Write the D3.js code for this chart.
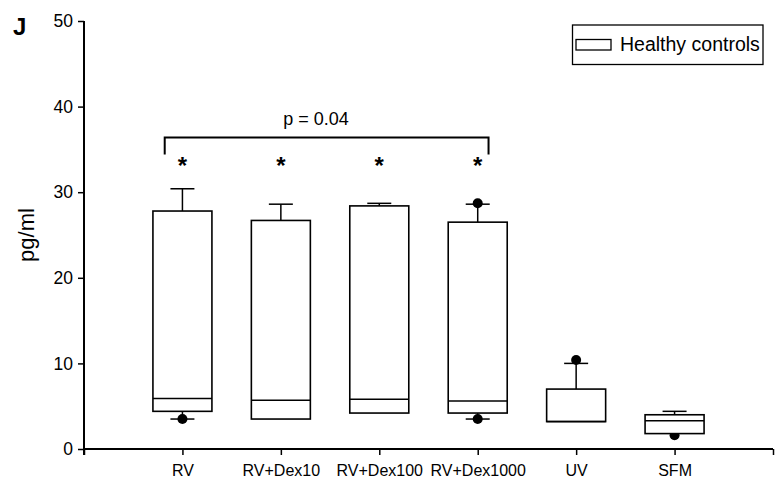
<!DOCTYPE html>
<html>
<head>
<meta charset="utf-8">
<script src="https://cdn.jsdelivr.net/npm/d3@7"></script>
<style>
  html, body { margin: 0; padding: 0; background: #fff; }
  svg { display: block; font-family: "Liberation Sans", Arial, Helvetica, sans-serif; }
</style>
</head>
<body>
<svg id="chart" width="781" height="486"></svg>
<script>
// Cytokine levels (pg/ml) per stimulation condition, healthy controls
const categories = ["RV", "RV+Dex10", "RV+Dex100", "RV+Dex1000", "UV", "SFM"];
const q1Values     = [4.4, 3.5, 4.2, 4.2, 3.2, 1.8];
const medianValues = [5.9, 5.7, 5.8, 5.6, 3.2, 3.3];
const q3Values     = [27.8, 26.7, 28.4, 26.5, 7.0, 4.0];
const whiskerLow   = [3.5, null, null, 3.5, null, null];
const whiskerHigh  = [30.4, 28.6, 28.7, 28.6, 10.0, 4.4];
// individual points beyond the whiskers: [category index, value]
const outlierPoints = [[0, 3.5], [3, 28.7], [3, 3.5], [4, 10.4], [5, 1.6]];
const significant  = [true, true, true, true, false, false];
const yTicks = [0, 10, 20, 30, 40, 50];
const bracket = { from: 0.82, to: 4.11, level: 36.4, drop: 34.4, label: "p = 0.04" };
const legendLabel = "Healthy controls";
const panelLabel = "J";
const yTitle = "pg/ml";

const svg = d3.select("#chart");
const x = d3.scaleLinear().domain([0, 7]).range([84, 773]);
const y = d3.scaleLinear().domain([0, 50]).range([449, 21]);
const boxW = 59, capW = 24;

// y axis
const yAxis = svg.append("g")
  .attr("transform", `translate(${x(0)},0)`)
  .call(d3.axisLeft(y).tickValues(yTicks).tickSize(6).tickPadding(5));
yAxis.select(".domain").attr("stroke-width", 2).attr("d", `M0,${y(50)}V${y(0) + 6}`);
yAxis.selectAll(".tick line").attr("stroke-width", 1.5);
yAxis.selectAll(".tick text").attr("font-size", 17.5).attr("fill", "#000");

// x axis with a tick at every position, labels at the categories
const xAxis = svg.append("g")
  .attr("transform", `translate(0,${y(0)})`)
  .call(d3.axisBottom(x).tickValues(d3.range(0, 8))
    .tickFormat(i => categories[i - 1] || "").tickSize(6).tickPadding(10));
xAxis.select(".domain").attr("stroke-width", 2).attr("d", `M${x(0)},0H${x(7)}`);
xAxis.selectAll(".tick line").attr("stroke-width", 1.5);
xAxis.selectAll(".tick text").attr("font-size", 16).attr("fill", "#000");

const plot = svg.append("g");
const idx = d3.range(categories.length);

// outlier dots sit beneath the boxes
plot.selectAll("circle.pt").data(outlierPoints).join("circle")
  .attr("class", "pt")
  .attr("cx", d => x(d[0] + 1)).attr("cy", d => y(d[1])).attr("r", 5)
  .attr("fill", "#000");

// upper whiskers
plot.selectAll("line.wh").data(idx).join("line")
  .attr("x1", i => x(i + 1)).attr("x2", i => x(i + 1))
  .attr("y1", i => y(q3Values[i])).attr("y2", i => y(whiskerHigh[i]))
  .attr("stroke", "#000").attr("stroke-width", 1.5);
plot.selectAll("line.ch").data(idx).join("line")
  .attr("x1", i => x(i + 1) - capW / 2).attr("x2", i => x(i + 1) + capW / 2)
  .attr("y1", i => y(whiskerHigh[i])).attr("y2", i => y(whiskerHigh[i]))
  .attr("stroke", "#000").attr("stroke-width", 1.5);

// lower whiskers where present
const lowIdx = idx.filter(i => whiskerLow[i] != null);
plot.selectAll("line.wl").data(lowIdx).join("line")
  .attr("x1", i => x(i + 1)).attr("x2", i => x(i + 1))
  .attr("y1", i => y(q1Values[i])).attr("y2", i => y(whiskerLow[i]))
  .attr("stroke", "#000").attr("stroke-width", 1.5);
plot.selectAll("line.cl").data(lowIdx).join("line")
  .attr("x1", i => x(i + 1) - capW / 2).attr("x2", i => x(i + 1) + capW / 2)
  .attr("y1", i => y(whiskerLow[i])).attr("y2", i => y(whiskerLow[i]))
  .attr("stroke", "#000").attr("stroke-width", 1.5);

// boxes and medians
plot.selectAll("rect.box").data(idx).join("rect")
  .attr("x", i => x(i + 1) - boxW / 2).attr("width", boxW)
  .attr("y", i => y(q3Values[i])).attr("height", i => y(q1Values[i]) - y(q3Values[i]))
  .attr("fill", "#fff").attr("stroke", "#000").attr("stroke-width", 1.6);
plot.selectAll("line.med").data(idx).join("line")
  .attr("x1", i => x(i + 1) - boxW / 2).attr("x2", i => x(i + 1) + boxW / 2)
  .attr("y1", i => y(medianValues[i])).attr("y2", i => y(medianValues[i]))
  .attr("stroke", "#000").attr("stroke-width", 1.5);

// significance asterisks
plot.selectAll("text.star").data(idx.filter(i => significant[i])).join("text")
  .attr("x", i => x(i + 1)).attr("y", y(33.4) + 11)
  .attr("text-anchor", "middle").attr("font-size", 24).attr("font-weight", "bold")
  .text("*");

// comparison bracket
svg.append("path")
  .attr("d", `M${x(bracket.from)},${y(bracket.drop)}V${y(bracket.level)}H${x(bracket.to)}V${y(bracket.drop)}`)
  .attr("fill", "none").attr("stroke", "#000").attr("stroke-width", 2);
svg.append("text")
  .attr("x", 316).attr("y", 125).attr("text-anchor", "middle")
  .attr("font-size", 18).text(bracket.label);

// legend
const lg = svg.append("g");
lg.append("rect").attr("x", 572.5).attr("y", 25).attr("width", 190.5).attr("height", 39.5)
  .attr("fill", "#fff").attr("stroke", "#000").attr("stroke-width", 1.3);
lg.append("rect").attr("x", 576).attr("y", 39.5).attr("width", 35).attr("height", 10.5)
  .attr("fill", "#fff").attr("stroke", "#000").attr("stroke-width", 1.3);
lg.append("text").attr("x", 620).attr("y", 51).attr("font-size", 19.5).text(legendLabel);

// panel letter and axis title
svg.append("text").attr("x", 13).attr("y", 34.5).attr("font-size", 24).attr("font-weight", "bold")
  .text(panelLabel);
svg.append("text").attr("transform", `translate(34,235) rotate(-90)`)
  .attr("text-anchor", "middle").attr("font-size", 22).text(yTitle);
</script>
</body>
</html>
